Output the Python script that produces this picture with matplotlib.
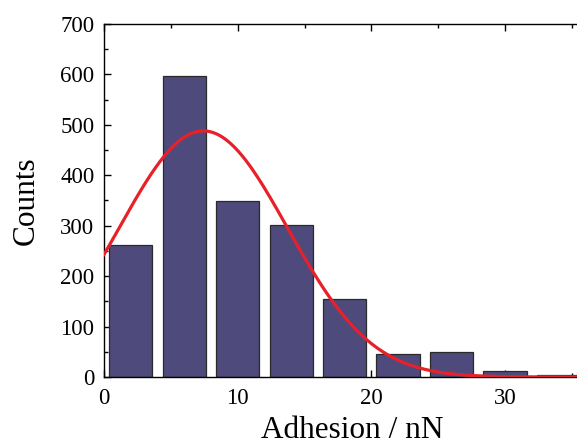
import numpy as np
import matplotlib.pyplot as plt
from matplotlib.ticker import MultipleLocator

plt.rcParams['font.family'] = ['Liberation Serif', 'DejaVu Serif']

# histogram of adhesion forces (bin centres in nN, counts)
bin_centers = [2, 6, 10, 14, 18, 22, 26, 30, 34]
counts = [261, 597, 349, 302, 155, 45, 49, 11, 3]
bin_width = 4.0

# gaussian fit parameters
fit_amp = 488.0
fit_mu = 7.43
fit_sigma = 6.29

fig = plt.figure(figsize=(5.77, 4.45), dpi=100)
# axes run past the right edge of the picture, like the original crop
ax = fig.add_axes([104 / 577, 1 - 377 / 445, 496 / 577, 353 / 445])

ax.bar(bin_centers, counts, width=bin_width * 0.81, color='#4e4a7c',
       edgecolor='#2a2a2a', linewidth=0.9, zorder=2)

xs = np.linspace(0, 38, 400)
ys = fit_amp * np.exp(-(xs - fit_mu) ** 2 / (2 * fit_sigma ** 2))
ax.plot(xs, ys, color='#e8202a', linewidth=2.3, zorder=3)

ax.set_xlim(0, 37.1)
ax.set_ylim(0, 700)
ax.xaxis.set_major_locator(MultipleLocator(10))
ax.xaxis.set_minor_locator(MultipleLocator(5))
ax.yaxis.set_major_locator(MultipleLocator(100))
ax.yaxis.set_minor_locator(MultipleLocator(50))
ax.tick_params(which='both', direction='in', top=True, right=False, labelsize=16.5)
ax.tick_params(which='major', length=5, width=1)
ax.tick_params(which='minor', length=3, width=1)
ax.tick_params(axis='x', which='both', pad=8)
ax.tick_params(axis='y', which='both', pad=7)
for s in ax.spines.values():
    s.set_linewidth(1)
ax.spines['right'].set_visible(False)

ax.set_xlabel('Adhesion / nN', fontsize=22.5, labelpad=5)
ax.set_ylabel('Counts', fontsize=22.5, labelpad=14)

fig.savefig('out.png', dpi=100)
